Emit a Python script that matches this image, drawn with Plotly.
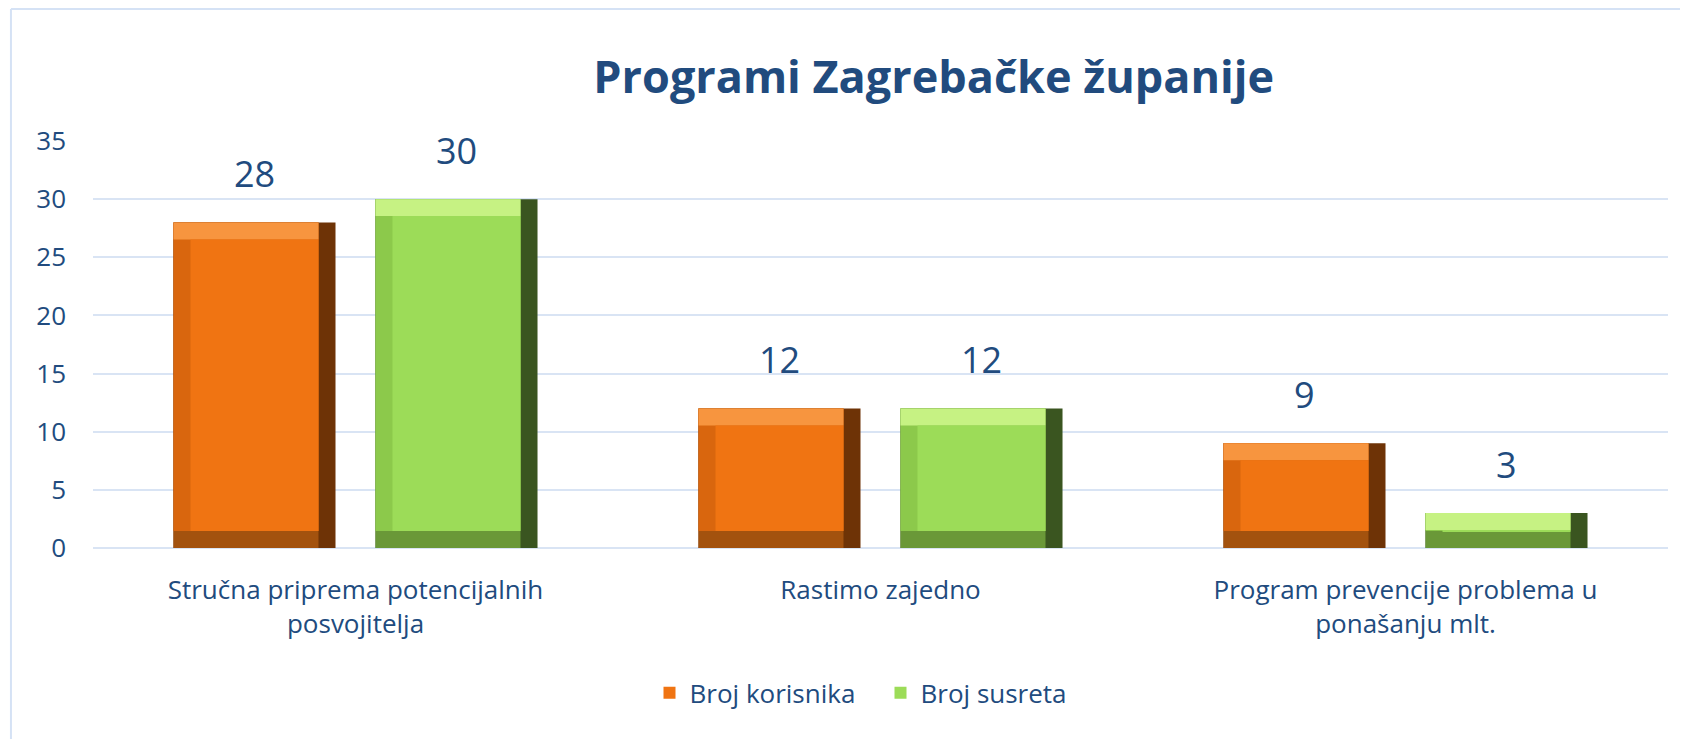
import plotly.graph_objects as go

# ---- data ----
categories = ["Stručna priprema potencijalnih<br>posvojitelja",
              "Rastimo zajedno",
              "Program prevencije problema u<br>ponašanju mlt."]
series_names = ["Broj korisnika", "Broj susreta"]
broj_korisnika = [28, 12, 9]
broj_susreta = [30, 12, 3]
y_ticks = [0, 5, 10, 15, 20, 25, 30, 35]

# ---- style ----
TEXT = "#214B7E"
FONT = "Open Sans"
BAR_W = 0.3086
GROUP_OFF = [-0.1924, 0.1924]
BX = 0.0324   # bevel width in x units
BY = 1.46     # bevel height in y units
palettes = [
    dict(face="#F07412", top="#F7953F", left="#D9660E", right="#6E3306", bottom="#A3520E"),
    dict(face="#9CDC58", top="#C6F283", left="#8CC94B", right="#3A5520", bottom="#6A9838"),
]

xs = list(range(len(categories)))
fig = go.Figure()

for s, (name, vals) in enumerate(zip(series_names, [broj_korisnika, broj_susreta])):
    p = palettes[s]
    left = GROUP_OFF[s] - BAR_W / 2
    fig.add_trace(go.Bar(x=xs, y=vals, offset=left, width=BAR_W, marker_color=p["right"],
                         marker_line_width=0, showlegend=False, hoverinfo="skip"))
    fig.add_trace(go.Bar(x=xs, y=vals, offset=left, width=BAR_W - BX, marker_color=p["bottom"],
                         marker_line_width=0, showlegend=False, hoverinfo="skip"))
    fig.add_trace(go.Bar(x=xs, y=[v - BY for v in vals], base=BY, offset=left, width=BAR_W - BX,
                         marker_color=p["left"], marker_line_width=0, showlegend=False, hoverinfo="skip"))
    fig.add_trace(go.Bar(x=xs, y=[BY for v in vals], base=[v - BY for v in vals], offset=left,
                         width=BAR_W - BX, marker_color=p["top"], marker_line_width=0,
                         showlegend=False, hoverinfo="skip"))
    fig.add_trace(go.Bar(x=xs, y=[v - 2 * BY for v in vals], base=BY, offset=left + BX,
                         width=BAR_W - 2 * BX, marker_color=p["face"], marker_line_width=0,
                         name=name, showlegend=True))
    for i, v in zip(xs, vals):
        fig.add_annotation(x=i + GROUP_OFF[s], y=v, text=str(v), showarrow=False,
                           yanchor="bottom", yshift=22,
                           font=dict(family=FONT, size=36, color=TEXT))

# frame lines (paper coords)
line_style = dict(color="#D5E2F5", width=2)
fig.add_shape(type="line", xref="paper", yref="paper", x0=-0.0521, x1=-0.0521, y0=-0.47, y1=1.3243,
              line=line_style)
fig.add_shape(type="line", xref="paper", yref="paper", x0=-0.0521, x1=1.02, y0=1.3243, y1=1.3243,
              line=line_style)

fig.update_layout(
    width=1680, height=731,
    margin=dict(l=85, r=20, t=133, b=191),
    paper_bgcolor="white", plot_bgcolor="white",
    barmode="overlay",
    font=dict(family=FONT, color=TEXT),
    title=dict(text="<b>Programi Zagrebačke županije</b>", x=0.551, xanchor="center",
               y=0.905, yanchor="middle", font=dict(family=FONT, size=45, color=TEXT)),
    legend=dict(orientation="h", x=0.5, xanchor="center", y=-0.356, yanchor="middle",
                font=dict(family=FONT, size=26, color=TEXT), traceorder="normal",
                itemwidth=30, entrywidth=186),
    xaxis=dict(range=[-0.5, 2.5], tickvals=xs, ticktext=categories, showgrid=False,
               zeroline=False, tickfont=dict(family=FONT, size=26, color=TEXT),
               ticklabelstandoff=24),
    yaxis=dict(range=[0, 35], tickvals=y_ticks, showgrid=True, gridcolor="#D9E4F4", gridwidth=1.5,
               zeroline=True, zerolinecolor="#D9E4F4", zerolinewidth=1.5,
               tickfont=dict(family=FONT, size=26, color=TEXT), ticklabelstandoff=26),
)

fig.write_html("out.html")
